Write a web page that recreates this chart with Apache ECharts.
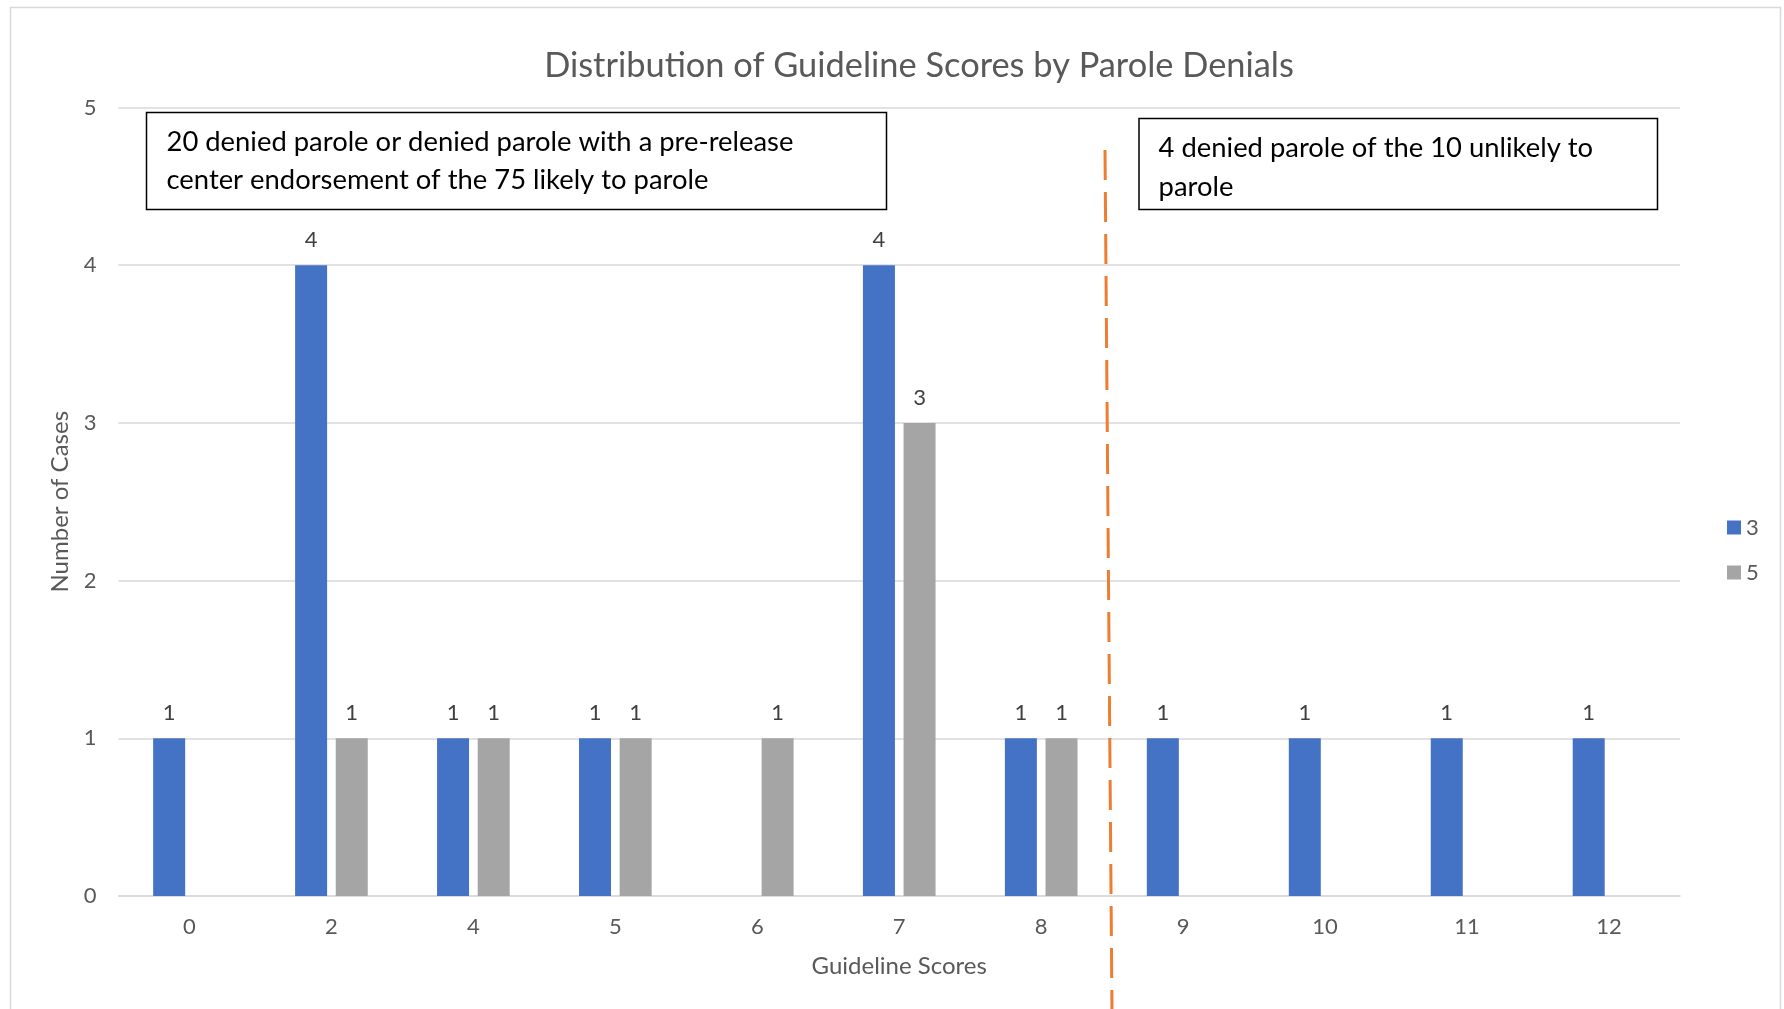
<!DOCTYPE html>
<html>
<head>
<meta charset="utf-8">
<script src="https://cdn.jsdelivr.net/npm/echarts@6/dist/echarts.min.js"></script>
<style>
html,body{margin:0;padding:0;background:#fff;}
#chart{width:1784px;height:1009px;}
</style>
</head>
<body>
<div id="chart"></div>
<script>
var categories = ['0','2','4','5','6','7','8','9','10','11','12'];
var series3 = [1,4,1,1,null,4,1,1,1,1,1];
var series5 = [null,1,1,1,1,3,1,null,null,null,null];
var seriesNames = ['3','5'];
var yTicks = [0,1,2,3,4,5];
var titleText = 'Distribution of Guideline Scores by Parole Denials';
var note1 = '20 denied parole or denied parole with a pre-release\ncenter endorsement of the 75 likely to parole';
var note2 = '4 denied parole of the 10 unlikely to\nparole';

var FONT = 'Lato';
var chart = echarts.init(document.getElementById('chart'), null, {renderer:'canvas'});
var labelStyle = {show:true, position:'top', distance:14, color:'#404040', fontFamily:FONT, fontSize:22};
chart.setOption({
  backgroundColor:'#ffffff',
  animation:false,
  title:{
    text:titleText, left:914, top:44, textAlign:'center',
    textStyle:{fontFamily:FONT, fontSize:34.4, fontWeight:'normal', color:'#595959'}
  },
  grid:{left:118.5, right:104, top:107.5, bottom:113},
  legend:{
    orient:'vertical', left:1722, top:511, itemWidth:14, itemHeight:14, itemGap:22,
    icon:'rect', data:seriesNames,
    textStyle:{fontFamily:FONT, fontSize:22, color:'#595959', lineHeight:23}
  },
  xAxis:{
    type:'category', data:categories,
    name:'Guideline Scores', nameLocation:'middle', nameGap:58,
    nameTextStyle:{fontFamily:FONT, fontSize:24, color:'#595959'},
    axisLine:{lineStyle:{color:'#d9d9d9', width:1.5}},
    axisTick:{show:false},
    axisLabel:{margin:20, fontFamily:FONT, fontSize:22, color:'#595959'}
  },
  yAxis:{
    type:'value', min:yTicks[0], max:yTicks[yTicks.length-1], interval:1,
    name:'Number of Cases', nameLocation:'middle', nameGap:46, nameRotate:90,
    nameTextStyle:{fontFamily:FONT, fontSize:24, color:'#595959'},
    axisLine:{show:false}, axisTick:{show:false},
    axisLabel:{margin:22, fontFamily:FONT, fontSize:22, color:'#595959'},
    splitLine:{lineStyle:{color:'#d9d9d9', width:1.5}}
  },
  series:[
    {name:seriesNames[0], type:'bar', data:series3, barWidth:32, barGap:'27%',
     itemStyle:{color:'#4472C4'}, label:labelStyle},
    {name:seriesNames[1], type:'bar', data:series5, barWidth:32, barGap:'27%',
     itemStyle:{color:'#A5A5A5'}, label:labelStyle}
  ],
  graphic:[
    {type:'rect', shape:{x:10.5, y:7.5, width:1770, height:1030}, style:{fill:null, stroke:'#d9d9d9', lineWidth:1.5}, z:0, silent:true},
    {type:'line', shape:{x1:1105, y1:150, x2:1112, y2:1012}, style:{stroke:'#ED7D31', lineWidth:3, lineDash:[30,12]}, z:10},
    {type:'rect', shape:{x:146.5, y:112.5, width:740, height:97}, style:{fill:'#ffffff', stroke:'#000000', lineWidth:1.5}, z:20},
    {type:'text', x:166.5, y:123, style:{text:note1, font:'27.4px Lato', fill:'#000000', lineHeight:38.3, textVerticalAlign:'top'}, z:21},
    {type:'rect', shape:{x:1139, y:118.5, width:518.5, height:91}, style:{fill:'#ffffff', stroke:'#000000', lineWidth:1.5}, z:20},
    {type:'text', x:1158.6, y:129.3, style:{text:note2, font:'27.4px Lato', fill:'#000000', lineHeight:38.7, textVerticalAlign:'top'}, z:21}
  ]
});
</script>
</body>
</html>
